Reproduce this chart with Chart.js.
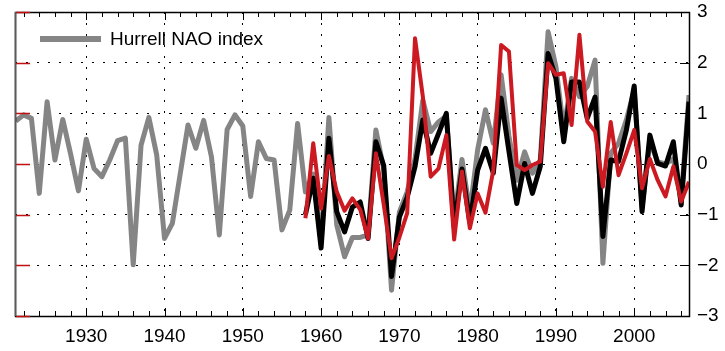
<!DOCTYPE html>
<html>
<head>
<meta charset="utf-8">
<script src="https://cdn.jsdelivr.net/npm/chart.js@4/dist/chart.umd.min.js"></script>
<style>
  html, body { margin: 0; padding: 0; background: #fff; }
  #wrap { width: 725px; height: 351px; }
</style>
</head>
<body>
<div id="wrap"><canvas id="naoChart"></canvas></div>
<script>
// Years of the station index (grey) and of the two reconstructions
const hurrellYears = [
  1921, 1922, 1923, 1924, 1925, 1926, 1927, 1928, 1929, 1930,
  1931, 1932, 1933, 1934, 1935, 1936, 1937, 1938, 1939, 1940,
  1941, 1942, 1943, 1944, 1945, 1946, 1947, 1948, 1949, 1950,
  1951, 1952, 1953, 1954, 1955, 1956, 1957, 1958, 1959, 1960,
  1961, 1962, 1963, 1964, 1965, 1966, 1967, 1968, 1969, 1970,
  1971, 1972, 1973, 1974, 1975, 1976, 1977, 1978, 1979, 1980,
  1981, 1982, 1983, 1984, 1985, 1986, 1987, 1988, 1989, 1990,
  1991, 1992, 1993, 1994, 1995, 1996, 1997, 1998, 1999, 2000,
  2001, 2002, 2003, 2004, 2005, 2006, 2007
];
const hurrellNao = [
  0.85, 0.97, 0.90, -0.58, 1.23, 0.08, 0.88, 0.20, -0.53, 0.49,
  -0.09, -0.25, 0.08, 0.46, 0.51, -1.99, 0.37, 0.92, 0.18, -1.47,
  -1.17, -0.20, 0.77, 0.31, 0.86, 0.14, -1.40, 0.68, 0.97, 0.75,
  -0.64, 0.44, 0.11, 0.08, -1.30, -0.91, 0.80, -0.55, -0.20, -1.55,
  0.92, -1.20, -1.83, -1.45, -1.45, -1.40, 0.67, -0.10, -2.49, -0.95,
  -0.55, 0.10, 1.26, 0.64, 0.83, 0.95, -1.10, 0.09, -0.95, 0.28,
  1.07, 0.41, 1.76, 0.55, -0.32, 0.24, -0.18, 0.08, 2.61, 1.92,
  0.67, 1.69, 1.33, 1.53, 2.05, -1.96, 0.21, 0.41, 0.87, 1.46,
  -0.85, 0.44, 0.04, 0.00, 0.10, -0.70, 1.36
];

const reconYears = [
  1958, 1959, 1960, 1961, 1962, 1963, 1964, 1965, 1966, 1967,
  1968, 1969, 1970, 1971, 1972, 1973, 1974, 1975, 1976, 1977,
  1978, 1979, 1980, 1981, 1982, 1983, 1984, 1985, 1986, 1987,
  1988, 1989, 1990, 1991, 1992, 1993, 1994, 1995, 1996, 1997,
  1998, 1999, 2000, 2001, 2002, 2003, 2004, 2005, 2006, 2007
];
const blackSeries = [
  -1.00, -0.28, -1.66, 0.51, -0.94, -1.34, -0.85, -0.75, -1.47, 0.44,
  -0.03, -2.22, -1.05, -0.66, -0.05, 0.87, 0.21, 0.60, 1.00, -1.25,
  -0.10, -1.15, -0.12, 0.31, -0.18, 1.30, 0.25, -0.78, 0.01, -0.58,
  -0.05, 2.18, 1.69, 0.44, 1.62, 1.62, 0.90, 1.32, -1.43, 0.08,
  0.05, 0.67, 1.54, -0.94, 0.57, 0.01, -0.04, 0.44, -0.81, 1.23
];
const redSeries = [
  -1.07, 0.41, -0.88, 0.16, -0.55, -0.92, -0.68, -0.90, -1.47, 0.21,
  -0.80, -1.86, -1.45, -0.97, 2.48, 1.33, -0.25, -0.09, 0.57, -1.49,
  -0.15, -1.27, -0.58, -0.96, -0.12, 2.35, 2.22, -0.02, -0.12, -0.02,
  0.05, 1.99, 1.76, 1.79, 0.77, 2.55, 0.84, 0.64, -0.45, 0.83,
  -0.22, 0.21, 0.67, -0.48, 0.10, -0.32, -0.64, -0.05, -0.74, -0.35
];

// Axis ticks
const decadeTicks = [1930, 1940, 1950, 1960, 1970, 1980, 1990, 2000];
const yTicks = [-3, -2, -1, 0, 1, 2, 3];

const colors = {
  grey: '#858585',
  black: '#000000',
  red: '#cc1a22'
};

const toPoints = (xs, ys) => xs.map((x, i) => ({ x: x, y: ys[i] }));

// Frame, inward tick marks and the in-plot legend
const frameTicks = {
  id: 'frameTicks',
  afterDraw(chart) {
    const { ctx, chartArea: a, scales: { x, y } } = chart;
    ctx.save();
    ctx.setLineDash([]);
    ctx.lineWidth = 1;
    ctx.strokeStyle = '#000';
    ctx.beginPath();
    for (let yr = 1922; yr <= 2006; yr += 2) {
      const px = Math.round(x.getPixelForValue(yr)) + 0.5;
      const len = yr % 10 === 0 ? 8 : 5;
      ctx.moveTo(px, a.bottom); ctx.lineTo(px, a.bottom - len);
      ctx.moveTo(px, a.top); ctx.lineTo(px, a.top + len);
    }
    yTicks.forEach(v => {
      const py = Math.round(y.getPixelForValue(v)) + 0.5;
      ctx.moveTo(a.right, py); ctx.lineTo(a.right - 9, py);
    });
    ctx.stroke();

    ctx.lineWidth = 1.5;
    ctx.strokeRect(a.left + 0.5, a.top + 0.5, a.right - a.left, a.bottom - a.top);

    ctx.strokeStyle = '#c01010';
    ctx.lineWidth = 1.5;
    ctx.beginPath();
    yTicks.forEach(v => {
      const py = Math.round(y.getPixelForValue(v)) + 0.5;
      ctx.moveTo(a.left + 1, py); ctx.lineTo(a.left + 15, py);
    });
    ctx.stroke();
    ctx.strokeStyle = '#5a5a5a';
    ctx.beginPath();
    ctx.moveTo(a.left + 0.5, a.top); ctx.lineTo(a.left + 0.5, a.bottom);
    ctx.stroke();

    // legend
    const ds = chart.data.datasets[2];
    ctx.strokeStyle = ds.borderColor;
    ctx.lineWidth = 6;
    ctx.beginPath();
    ctx.moveTo(a.left + 25, a.top + 27);
    ctx.lineTo(a.left + 86, a.top + 27);
    ctx.stroke();
    ctx.fillStyle = '#000';
    ctx.font = '19px "Liberation Sans", Arial, sans-serif';
    ctx.textBaseline = 'middle';
    ctx.fillText(ds.label, a.left + 95, a.top + 28);
    ctx.restore();
  }
};

new Chart(document.getElementById('naoChart'), {
  type: 'line',
  data: {
    datasets: [
      {
        label: 'Reconstruction (red)',
        data: toPoints(reconYears, redSeries),
        borderColor: colors.red,
        borderWidth: 4,
        order: 0
      },
      {
        label: 'Reconstruction (black)',
        data: toPoints(reconYears, blackSeries),
        borderColor: colors.black,
        borderWidth: 5,
        order: 1
      },
      {
        label: 'Hurrell NAO index',
        data: toPoints(hurrellYears, hurrellNao),
        borderColor: colors.grey,
        borderWidth: 5,
        order: 2
      }
    ]
  },
  options: {
    responsive: true,
    maintainAspectRatio: false,
    animation: false,
    layout: { padding: { left: 15, top: 12, right: 0, bottom: 0 } },
    elements: {
      point: { radius: 0 },
      line: { tension: 0, borderJoinStyle: 'round', borderCapStyle: 'butt' }
    },
    plugins: {
      legend: { display: false },
      tooltip: { enabled: false }
    },
    scales: {
      x: {
        type: 'linear',
        min: 1920.9,
        max: 2007,
        afterBuildTicks: s => { s.ticks = decadeTicks.map(v => ({ value: v })); },
        afterFit: s => { s.height = 35; s.paddingLeft = 0; s.paddingRight = 0; },
        grid: { color: '#000', lineWidth: 1, drawTicks: false },
        border: { display: false, dash: [2, 9] },
        ticks: {
          padding: 9,
          color: '#000',
          font: { family: '"Liberation Sans", Arial, sans-serif', size: 19 },
          callback: v => String(v)
        }
      },
      y: {
        position: 'right',
        min: -3,
        max: 3,
        afterBuildTicks: s => { s.ticks = yTicks.map(v => ({ value: v })); },
        afterFit: s => { s.width = 36; s.paddingTop = 0; s.paddingBottom = 0; },
        grid: { color: '#000', lineWidth: 1, drawTicks: false },
        border: { display: false, dash: [2, 9] },
        ticks: {
          padding: 8,
          color: '#000',
          font: { family: '"Liberation Sans", Arial, sans-serif', size: 19 },
          callback: v => (v < 0 ? '\u2212' + Math.abs(v) : String(v))
        }
      }
    }
  },
  plugins: [frameTicks]
});
</script>
</body>
</html>
